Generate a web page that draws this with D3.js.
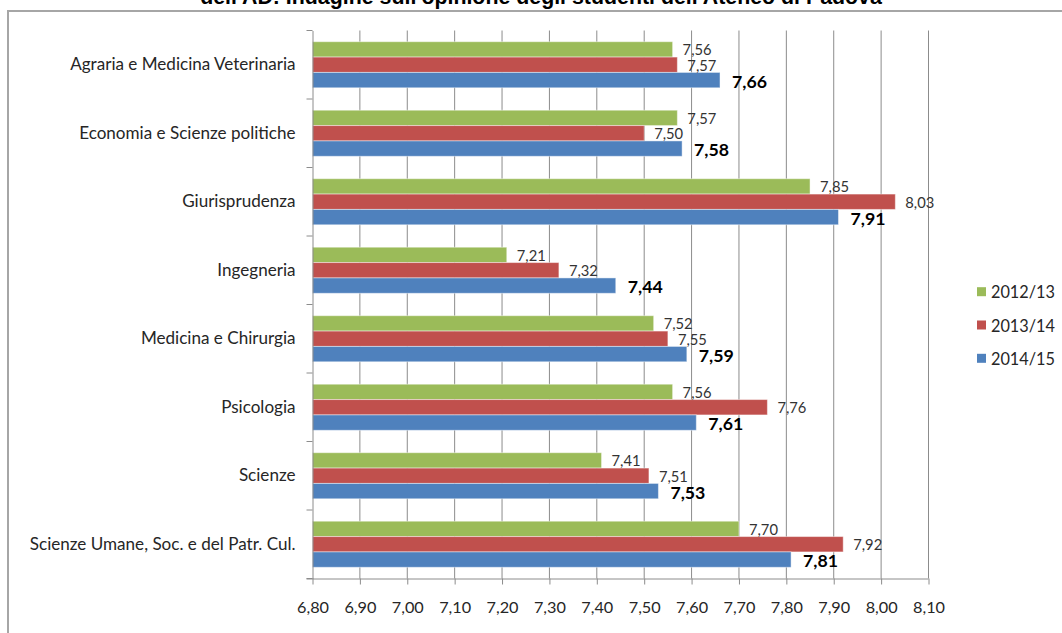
<!DOCTYPE html>
<html>
<head>
<meta charset="utf-8">
<script src="https://cdn.jsdelivr.net/npm/d3@7"></script>
<style>
  html, body { margin: 0; padding: 0; background: #fff; overflow: hidden; }
  svg { display: block; }
</style>
</head>
<body>
<svg id="chart" width="1062" height="633"></svg>
<script>
// ---- Data ----
const title = "dell'AD: Indagine sull'opinione degli studenti dell'Ateneo di Padova";
const categories = [
  "Agraria e Medicina Veterinaria",
  "Economia e Scienze politiche",
  "Giurisprudenza",
  "Ingegneria",
  "Medicina e Chirurgia",
  "Psicologia",
  "Scienze",
  "Scienze Umane, Soc. e del Patr. Cul."
];
const seriesNames = ["2012/13", "2013/14", "2014/15"];
const values2012 = [7.56, 7.57, 7.85, 7.21, 7.52, 7.56, 7.41, 7.70];
const values2013 = [7.57, 7.50, 8.03, 7.32, 7.55, 7.76, 7.51, 7.92];
const values2014 = [7.66, 7.58, 7.91, 7.44, 7.59, 7.61, 7.53, 7.81];
const xTicks = [6.8, 6.9, 7.0, 7.1, 7.2, 7.3, 7.4, 7.5, 7.6, 7.7, 7.8, 7.9, 8.0, 8.1];
const colors = ["#9BBB59", "#C0504D", "#4F81BD"];

const seriesValues = [values2012, values2013, values2014];
const rows = [];
categories.forEach((c, i) => {
  seriesNames.forEach((s, j) => rows.push({ cat: c, series: s, idx: j, value: seriesValues[j][i] }));
});

const fmt = v => d3.format(".2f")(v).replace(".", ",");

const svg = d3.select("#chart");
const FONT = "Lato, 'Open Sans', sans-serif";

// Helper: fit font-size so that a reference text has a given width
function fitSize(text, family, weight, target) {
  const t = svg.append("text").attr("font-family", family).attr("font-weight", weight)
    .attr("font-size", 20).text(text);
  const w = t.node().getComputedTextLength();
  t.remove();
  return 20 * target / w;
}

// Frame
svg.append("rect")
  .attr("x", 8).attr("y", 11).attr("width", 1070).attr("height", 640)
  .attr("fill", "none").attr("stroke", "#a6a6a6").attr("stroke-width", 2);

// Title (partially cut off at top, as in the reference)
const titleSize = fitSize(title, "'Liberation Sans', Arial, sans-serif", "bold", 682);
svg.append("text")
  .attr("x", 541).attr("y", 4)
  .attr("text-anchor", "middle")
  .attr("font-family", "'Liberation Sans', Arial, sans-serif")
  .attr("font-weight", "bold")
  .attr("font-size", titleSize)
  .attr("fill", "#000")
  .text(title);

// Scales
const x = d3.scaleLinear().domain([6.8, 8.1]).range([312.5, 928.5]);
const y0 = d3.scaleBand().domain(categories).range([30.5, 578.5]).padding(0);
const y1 = d3.scaleBand().domain(seriesNames).range([0, y0.bandwidth()]).paddingInner(0).paddingOuter(0.73);
const color = d3.scaleOrdinal().domain(seriesNames).range(colors);

// Gridlines
svg.append("g").selectAll("line").data(xTicks.slice(1)).join("line")
  .attr("x1", d => x(d)).attr("x2", d => x(d))
  .attr("y1", 30.5).attr("y2", 578.5)
  .attr("stroke", "#8c8c8c").attr("stroke-width", 1);

// Bars
svg.append("g").selectAll("rect").data(rows).join("rect")
  .attr("x", x(6.8))
  .attr("y", d => y0(d.cat) + y1(d.series))
  .attr("width", d => x(d.value) - x(6.8))
  .attr("height", y1.bandwidth())
  .attr("fill", d => color(d.series))
  .attr("stroke", "rgba(255,255,255,0.45)")
  .attr("stroke-width", 1);

// Value labels
const smallSize = fitSize("7,56", FONT, "normal", 29);
const boldSize = fitSize("7,66", FONT, "bold", 35);
svg.append("g").selectAll("text").data(rows).join("text")
  .attr("x", d => x(d.value) + (d.idx === 2 ? 12 : 10))
  .attr("y", d => y0(d.cat) + y1(d.series) + y1.bandwidth() / 2 + (d.idx === 2 ? 1 : 0))
  .attr("dominant-baseline", "central")
  .attr("font-family", FONT)
  .attr("font-weight", d => d.idx === 2 ? "bold" : "normal")
  .attr("font-size", d => d.idx === 2 ? boldSize : smallSize)
  .attr("fill", d => d.idx === 2 ? "#000" : "#333")
  .text(d => fmt(d.value));

// Y axis (left)
const catSize = fitSize("Scienze Umane, Soc. e del Patr. Cul.", FONT, "normal", 266);
const yAxis = d3.axisLeft(y0).tickSize(0).tickPadding(17);
const gy = svg.append("g").attr("transform", `translate(${x(6.8)},0)`).call(yAxis);
gy.select(".domain").attr("stroke", "#8c8c8c");
gy.selectAll(".tick text")
  .attr("font-family", FONT).attr("font-size", catSize).attr("fill", "#262626");
// category boundary ticks
gy.append("g").selectAll("line")
  .data(categories.map(c => y0(c)).concat([y0.range()[1]]))
  .join("line")
  .attr("x1", -6).attr("x2", 0)
  .attr("y1", d => d).attr("y2", d => d)
  .attr("stroke", "#8c8c8c");

// X axis (bottom)
const tickSize = fitSize("6,80", FONT, "normal", 32);
const xAxis = d3.axisBottom(x).tickValues(xTicks).tickFormat(fmt).tickSize(6).tickPadding(17).tickSizeOuter(0);
const gx = svg.append("g").attr("transform", "translate(0,578.5)").call(xAxis);
gx.select(".domain").attr("stroke", "#8c8c8c").attr("d", `M${x(6.8) - 6},0.5H${x(8.1)}`);
gx.selectAll(".tick line").attr("stroke", "#8c8c8c");
gx.selectAll(".tick text")
  .attr("font-family", FONT).attr("font-size", tickSize).attr("fill", "#262626");

// Legend
const legSize = fitSize("2012/13", FONT, "normal", 64);
const legend = svg.append("g");
const ly = d3.scalePoint().domain(seriesNames).range([291.7, 358.3]);
const li = legend.selectAll("g").data(seriesNames).join("g")
  .attr("transform", d => `translate(977,${ly(d)})`);
li.append("rect").attr("x", 0).attr("y", -4.5).attr("width", 9).attr("height", 9)
  .attr("fill", d => color(d));
li.append("text").attr("x", 14).attr("y", 0).attr("dominant-baseline", "central")
  .attr("font-family", FONT).attr("font-size", legSize).attr("fill", "#262626")
  .text(d => d);
</script>
</body>
</html>
